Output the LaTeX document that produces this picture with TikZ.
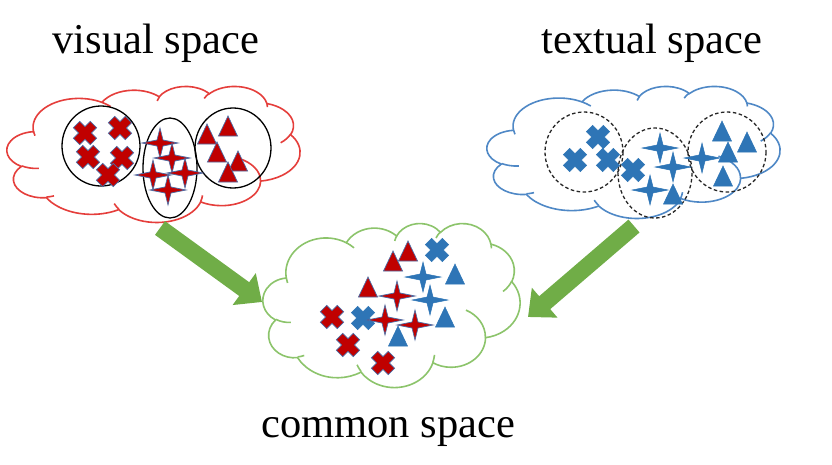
\documentclass[tikz,border=0pt]{standalone}
\usepackage{fontspec}
\setmainfont{Liberation Serif}
\usetikzlibrary{arrows.meta}
\definecolor{cred}{HTML}{E53E3B}
\definecolor{cblue}{HTML}{4F88C6}
\definecolor{cgreen}{HTML}{8CC46B}
\definecolor{arrowgreen}{HTML}{70AD47}
\definecolor{redfill}{HTML}{C00000}
\definecolor{redline}{HTML}{4A6EA8}
\definecolor{bluefill}{HTML}{2E75B6}

% one arc of an OOXML path: wR hR stAng swAng (visual angles, degrees)
\newcommand\ooarc[4]{%
  \pgfextra{%
    \pgfmathparse{atan2((#1)*sin(#3),(#2)*cos(#3))}\xdef\oots{\pgfmathresult}%
    \pgfmathparse{atan2((#1)*sin((#3)+(#4)),(#2)*cos((#3)+(#4)))}\xdef\oote{\pgfmathresult}%
    \pgfmathparse{mod(\oote-\oots+720,360)}\xdef\ood{\pgfmathresult}%
  }
  arc[start angle=\oots, delta angle=\ood, x radius=#1, y radius=#2]}

\newcommand\pptcloud[2]{%
  \begin{scope}[#2]
    \draw[#1] (39,143.70) \ooarc{67.53}{91.90}{-190.4875}{123.7805}
      \ooarc{53.33}{72.67}{-144.1024}{89.9452}
      \ooarc{43.65}{59.45}{-145.8079}{99.7230}
      \ooarc{48.57}{65.95}{-130.9861}{117.2417}
      \ooarc{53.33}{72.73}{-78.7089}{109.0269}
      \ooarc{67.75}{92.20}{-46.2673}{130.2690}
      \ooarc{57.85}{78.67}{0.6250}{114.0333}
      \ooarc{67.52}{92.15}{22.4516}{115.1726}
      \ooarc{77.20}{105.43}{66.2426}{75.7110}
      \ooarc{43.60}{59.18}{-274.9421}{146.7356}
      \ooarc{43.45}{59.45}{-246.8285}{152.5189}
      -- cycle;
    \draw[#1,fill=none] (46.93,261.77) \ooarc{43.45}{59.45}{86.742}{26.4295}
      (69.28,348.99) \ooarc{43.60}{59.18}{73.6105}{11.4475}
      (164.78,390.90) \ooarc{67.52}{92.15}{137.6242}{14.0811}
      (288.27,347.51) \ooarc{67.52}{92.15}{6.4533}{15.9984}
      (341.29,229.54) \ooarc{57.85}{78.67}{-70.2924}{70.9174}
      (417.98,153.54) \ooarc{53.33}{72.73}{30.3180}{27.7515}
      (383.24,54.26) \ooarc{48.57}{65.95}{-13.7443}{14.8589}
      (290.78,39.52) \ooarc{48.57}{65.95}{-149.1815}{18.1954}
      (221.41,47.20) \ooarc{43.65}{59.45}{-163.4943}{17.6864}
      (140.00,51.92) \ooarc{67.53}{91.90}{-66.7070}{12.3194}
      (41.27,157.89) \ooarc{67.53}{91.90}{157.6544}{11.8582};
  \end{scope}}

\begin{document}
\begin{tikzpicture}[x=1pt,y=-1pt,
  redcloud/.style={draw=cred, line width=1.6pt, fill=white},
  bluecloud/.style={draw=cblue, line width=1.6pt, fill=white},
  greencloud/.style={draw=cgreen, line width=1.6pt, fill=white},
  redmark/.style={fill=redfill, draw=redline, line width=0.7pt},
  bluemark/.style={fill=bluefill, draw=bluefill, line width=0.5pt},
  solidring/.style={draw=black, line width=1.3pt},
  dashring/.style={draw=black!85, line width=1.3pt, dash pattern=on 3.5pt off 2.5pt},
  bigarrow/.style={draw=arrowgreen, line width=17pt, -{Triangle[length=22pt,width=38pt]}},
  label/.style={font=\fontsize{42.5}{50}\selectfont, anchor=base, inner sep=0pt},
  pics/xm/.style={code={\filldraw[#1,rotate=45] (-4.5,-12)--(4.5,-12)--(4.5,-4.5)--(12,-4.5)--(12,4.5)--(4.5,4.5)--(4.5,12)--(-4.5,12)--(-4.5,4.5)--(-12,4.5)--(-12,-4.5)--(-4.5,-4.5)--cycle;}},
  pics/sm/.style={code={\filldraw[#1] (0,-15)--(3,-3)--(18,0)--(3,3)--(0,15)--(-3,3)--(-18,0)--(-3,-3)--cycle;}},
  pics/tm/.style={code={\filldraw[#1] (0,-11)--(9.5,9)--(-9.5,9)--cycle;}},
]
\useasboundingbox (0,0) rectangle (832,464);
\fill[white] (0,0) rectangle (832,464);

% titles
\node[label] (tv) at (156,53) {visual space};
\node[label] (tt) at (652,53) {textual space};
\node[label] (tc) at (388,437) {common space};

% clouds
\pptcloud{redcloud}{shift={(7,86)}, x=0.6782pt, y=-0.3148pt}
\pptcloud{bluecloud}{shift={(487,86)}, x=0.6782pt, y=-0.3056pt}
\pptcloud{greencloud}{shift={(263,223)}, x=0.5949pt, y=-0.3796pt}

% visual space clusters
\draw[solidring] (101,146) ellipse[x radius=39, y radius=40];
\draw[solidring] (170,168) ellipse[x radius=27, y radius=50];
\draw[solidring] (233,148) ellipse[x radius=38, y radius=40];
\foreach \p in {(85,133),(120,128),(88,157),(122,158),(108,175)} \pic at \p {xm=redmark};
\foreach \p in {(160,143),(172,158),(153,175),(185,173),(168,190)} \pic at \p {sm=redmark};
\foreach \p in {(207,135),(228,127),(217,153),(238,162),(228,173)} \pic at \p {tm=redmark};

% textual space clusters
\draw[dashring] (584,152) ellipse[x radius=39, y radius=40];
\draw[dashring] (655,173) ellipse[x radius=37, y radius=45];
\draw[dashring] (727,152) ellipse[x radius=39, y radius=40];
\foreach \p in {(598,137),(575,160),(608,160),(633,170)} \pic at \p {xm=bluemark};
\foreach \p in {(660,148),(673,167),(650,190),(702,158)} \pic at \p {sm=bluemark};
\foreach \p in {(722,132),(747,143),(728,153),(673,195),(723,177)} \pic at \p {tm=bluemark};

% common space
\foreach \p in {(393,262),(408,252),(368,288)} \pic at \p {tm=redmark};
\foreach \p in {(437,250),(363,318)} \pic at \p {xm=bluemark};
\foreach \p in {(423,277),(430,300)} \pic at \p {sm=bluemark};
\foreach \p in {(455,275),(445,318),(398,337)} \pic at \p {tm=bluemark};
\foreach \p in {(397,296),(385,320),(415,325)} \pic at \p {sm=redmark};
\foreach \p in {(332,317),(348,345),(383,363)} \pic at \p {xm=redmark};

% arrows
\coordinate (la0) at (160,228);
\coordinate (la1) at (262,302);
\coordinate (ra0) at (634,226);
\coordinate (ra1) at (528,317);
\draw[bigarrow] (la0) -- (la1);
\draw[bigarrow] (ra0) -- (ra1);
\end{tikzpicture}
\end{document}
